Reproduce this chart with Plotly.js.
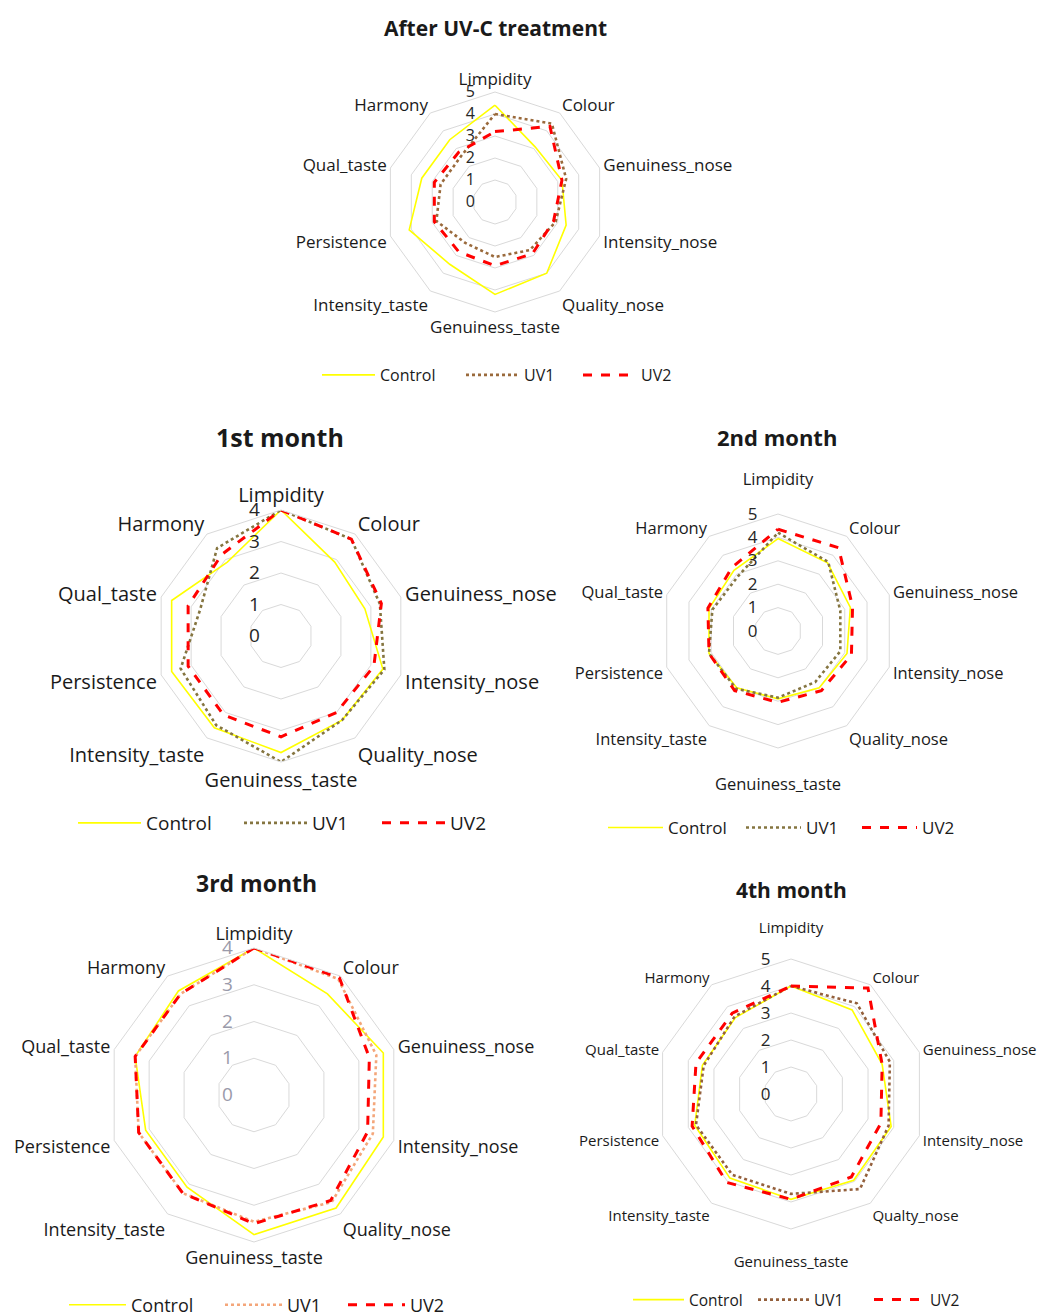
<!DOCTYPE html>
<html>
<head>
<meta charset="utf-8">
<script src="https://cdn.plot.ly/plotly-3.0.1.min.js"></script>
<style>html,body{margin:0;padding:0;background:#fff}#chart{width:1041px;height:1316px}</style>
</head>
<body>
<div id="chart"></div>
<script>
// ---------- data ----------
const categories = ["Limpidity","Colour","Genuiness_nose","Intensity_nose","Quality_nose","Genuiness_taste","Intensity_taste","Persistence","Qual_taste","Harmony"];
const categories4th = ["Limpidity","Colour","Genuiness_nose","Intensity_nose","Qualty_nose","Genuiness_taste","Intensity_taste","Persistence","Qual_taste","Harmony"];
const seriesNames = ["Control","UV1","UV2"];
const panelTitles = ["After UV-C treatment","1st month","2nd month","3rd month","4th month"];
const radialTicks5 = [0,1,2,3,4,5];
const radialTicks4 = [0,1,2,3,4];

const afterUV_control = [4.4, 3.1, 3.2, 3.4, 4.0, 4.2, 3.5, 4.1, 3.5, 3.5];
const afterUV_uv1     = [4.0, 4.4, 3.4, 2.9, 2.7, 2.5, 2.3, 2.8, 2.6, 2.6];
const afterUV_uv2     = [3.2, 4.25, 3.2, 2.8, 2.9, 2.9, 2.8, 2.9, 2.9, 2.8];

const month1_control = [4.0, 2.9, 2.8, 3.4, 3.3, 3.7, 3.6, 3.65, 3.65, 2.9];
const month1_uv1     = [4.0, 3.8, 3.3, 3.45, 3.3, 4.0, 3.5, 3.35, 2.7, 3.45];
const month1_uv2     = [4.0, 3.8, 3.35, 3.1, 3.0, 3.2, 3.1, 3.1, 3.1, 3.2];

const month2_control = [3.95, 3.6, 3.25, 3.1, 3.0, 2.9, 3.0, 3.1, 3.1, 3.2];
const month2_uv1     = [4.2, 3.65, 2.8, 2.8, 2.7, 2.85, 3.05, 3.1, 2.95, 2.9];
const month2_uv2     = [4.35, 4.4, 3.35, 3.3, 3.15, 3.05, 3.15, 3.1, 3.15, 3.35];

const month3_control = [4.0, 3.4, 3.7, 3.7, 3.8, 3.8, 3.1, 3.1, 3.4, 3.5];
const month3_uv1     = [4.0, 3.9, 3.5, 3.4, 3.6, 3.45, 3.3, 3.3, 3.4, 3.4];
const month3_uv2     = [4.0, 3.95, 3.3, 3.25, 3.55, 3.5, 3.3, 3.3, 3.4, 3.4];

const month4_control = [4.0, 3.85, 3.55, 3.9, 3.95, 3.9, 3.85, 3.75, 3.45, 3.5];
const month4_uv1     = [4.0, 4.15, 3.85, 3.8, 4.35, 3.7, 3.7, 3.7, 3.4, 3.55];
const month4_uv2     = [4.0, 4.85, 3.55, 3.5, 3.8, 3.9, 4.05, 3.85, 3.7, 3.7];

// ---------- layout config ----------
const FONT = "'Open Sans', 'Noto Sans', sans-serif";
const W = 1041, H = 1316;
function px2x(a){return a/W;}
function px2y(a){return 1 - a/H;}

const panels = [
  {cats: categories,   data:[afterUV_control, afterUV_uv1, afterUV_uv2], max:5, ticks:radialTicks5,
   cx:495, cy:202, R:110, labSize:17, tickSize:16, tickColor:'#262626', uv1Color:'#9a6a3c', pad:false,
   title:{x:495,y:28,size:21}, legX:[322,466,583], legY:375, legSize:16, iw:53},
  {cats: categories,   data:[month1_control, month1_uv1, month1_uv2], max:4, ticks:radialTicks4,
   cx:281, cy:636, R:126, labSize:20, tickSize:19, tickColor:'#262626', uv1Color:'#857540', pad:false,
   title:{x:280,y:437,size:25}, legX:[78,244,382], legY:823, legSize:19, iw:63},
  {cats: categories,   data:[month2_control, month2_uv1, month2_uv2], max:5, ticks:radialTicks5,
   cx:778, cy:631, R:117, labSize:16.5, tickSize:17, tickColor:'#262626', uv1Color:'#857540', pad:true,
   title:{x:777,y:437,size:22}, legX:[608,746,862], legY:828, legSize:17, iw:55},
  {cats: categories,   data:[month3_control, month3_uv1, month3_uv2], max:4, ticks:radialTicks4,
   cx:254, cy:1095, R:147, labSize:18, tickSize:19, tickColor:'#9a9aaa', uv1Color:'#f4a67a', pad:false,
   title:{x:256,y:883,size:23}, legX:[69,225,348], legY:1305, legSize:18, iw:57},
  {cats: categories4th, data:[month4_control, month4_uv1, month4_uv2], max:5, ticks:radialTicks5,
   cx:791, cy:1094, R:135, labSize:15, tickSize:17, tickColor:'#262626', uv1Color:'#94603c', pad:true,
   title:{x:791,y:890,size:21}, legX:[633,758,874], legY:1300, legSize:15.5, iw:51}
];

const traces = [];
const layout = {
  width: W, height: H,
  margin: {l:0, r:0, t:0, b:0, autoexpand:false},
  paper_bgcolor: '#ffffff',
  font: {family: FONT, color: '#262626'},
  showlegend: true,
  annotations: []
};

panels.forEach((p, i) => {
  const pid = i === 0 ? 'polar' : 'polar' + (i+1);
  const styles = [
    {color:'#ffff00', width:1.6, dash:'solid'},
    {color:p.uv1Color, width:2.6, dash:'dot'},
    {color:'#ff0000', width:3, dash:'dash'}
  ];
  p.data.forEach((vals, k) => {
    const idx = i*3 + k;
    const lid = idx === 0 ? 'legend' : 'legend' + (idx+1);
    traces.push({
      type: 'scatterpolar',
      mode: 'lines',
      r: vals.concat([vals[0]]),
      theta: p.cats.concat([p.cats[0]]),
      name: seriesNames[k],
      subplot: pid,
      legend: lid,
      line: {color: styles[k].color, width: styles[k].width, dash: styles[k].dash},
      hoverinfo: 'skip'
    });
    layout[lid] = {
      orientation: 'h', x: px2x(p.legX[k] - 5), y: px2y(p.legY),
      xanchor: 'left', yanchor: 'middle', bgcolor: 'rgba(0,0,0,0)',
      font: {family: FONT, size: p.legSize, color: '#1a1a1a'}, itemwidth: p.iw
    };
  });
  // labels: for the vertically taller panels, keep top/bottom labels a line further out
  const tickText = p.cats.map((c, j) => {
    if (!p.pad) return c;
    if (j === 0) return c + '<br> ';
    if (j === 5) return ' <br>' + c;
    return c;
  });
  layout[pid] = {
    domain: {x:[px2x(p.cx - p.R), px2x(p.cx + p.R)], y:[px2y(p.cy + p.R), px2y(p.cy - p.R)]},
    gridshape: 'linear',
    bgcolor: '#ffffff',
    angularaxis: {
      direction: 'clockwise', rotation: 90,
      showgrid: false, showline: true, linecolor: '#d9d9d9', linewidth: 1,
      tickvals: p.cats, ticktext: tickText,
      ticks: '', tickfont: {family: FONT, size: p.labSize, color: '#1a1a1a'}
    },
    radialaxis: {
      range: [0, p.max], tickvals: p.ticks, angle: 90, tickangle: 90,
      showline: false, gridcolor: '#d9d9d9', gridwidth: 1,
      ticks: 'outside', ticklen: 14, tickcolor: 'rgba(0,0,0,0)',
      side: 'counterclockwise',
      tickfont: {family: FONT, size: p.tickSize, color: p.tickColor}
    }
  };
  layout.annotations.push({
    text: '<b>' + panelTitles[i] + '</b>', showarrow: false,
    x: px2x(p.title.x), y: px2y(p.title.y), xref: 'paper', yref: 'paper',
    xanchor: 'center', yanchor: 'middle',
    font: {family: FONT, size: p.title.size, color: '#1a1a1a'}
  });
});

Plotly.newPlot('chart', traces, layout, {staticPlot: true});
</script>
</body>
</html>
